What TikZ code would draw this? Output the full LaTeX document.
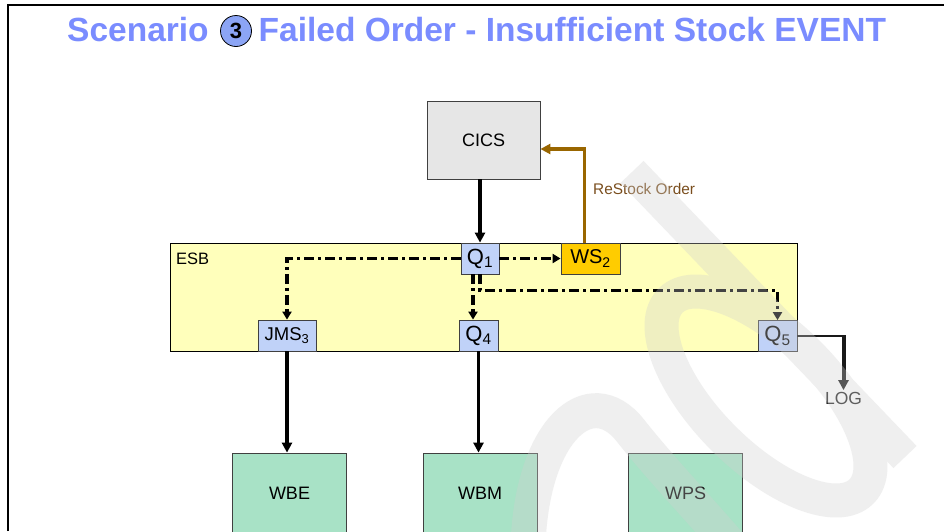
\documentclass[tikz,border=0pt]{standalone}
\usepackage{fontspec}
\setmainfont{Liberation Sans}
\usetikzlibrary{arrows.meta}
\definecolor{titleblue}{RGB}{122,140,255}
\definecolor{circblue}{RGB}{140,165,245}
\definecolor{cicsgray}{RGB}{230,230,230}
\definecolor{esbyellow}{RGB}{255,255,187}
\definecolor{qblue}{RGB}{192,210,248}
\definecolor{wsgold}{RGB}{255,204,0}
\definecolor{wgreen}{RGB}{168,226,198}
\definecolor{restock}{RGB}{153,102,0}
\definecolor{restocktext}{RGB}{122,78,30}
\definecolor{wmgray}{RGB}{208,208,208}
\begin{document}
\begin{tikzpicture}[x=1pt,y=-1pt,
  box/.style={draw=black!75, line width=0.8pt, inner sep=0pt, font=\fontsize{18}{20}\selectfont},
  qbox/.style={box, fill=qblue, minimum height=31pt, font=\fontsize{22}{24}\selectfont},
  jbox/.style={box, fill=qblue, minimum height=31pt, font=\fontsize{18.5}{20}\selectfont},
  gbox/.style={box, fill=wgreen, minimum width=114pt, minimum height=80pt},
  flow/.style={line width=3.8pt, -{Triangle[length=10pt,width=10pt]}},
  dd/.style={line width=3.2pt, dash pattern=on 10pt off 4pt on 3pt off 4pt, -{Triangle[length=8pt,width=9pt]}},
  titlefont/.style={font=\fontsize{33.5}{36}\selectfont\bfseries, text=titleblue, inner sep=0pt}
]
\useasboundingbox (0,0) rectangle (944,531);
\fill[white] (0,0) rectangle (944,531);
\draw[line width=1.5pt] (8,531) -- (8,5) -- (944,5);

% title
\node[titlefont, anchor=base west] (t1) at (67,41) {Scenario};
\node[circle, draw=black, line width=0.8pt, fill=circblue, minimum size=31pt, inner sep=0pt,
      font=\fontsize{22}{23}\selectfont\bfseries] (num) at (236,31) {3};
\node[titlefont, anchor=base west] (t2) at (258.5,41) {Failed Order - Insufficient Stock EVENT};

% boxes
\node[box, fill=cicsgray, minimum width=113pt, minimum height=78pt] (cics) at (483.5,140) {CICS};
\node[draw=black, line width=0.8pt, fill=esbyellow, minimum width=627pt, minimum height=108pt, inner sep=0pt] (esb) at (483.5,297) {};
\node[anchor=north west, font=\fontsize{16.5}{18}\selectfont, inner sep=0pt] (esblabel) at (176,253) {ESB};

\node[qbox, minimum width=38pt] (q1) at (480,258.5) {Q\textsubscript{1}};
\node[box, fill=wsgold, minimum width=59pt, minimum height=31pt, font=\fontsize{20}{22}\selectfont] (ws2) at (590.5,258.5) {WS\textsubscript{2}};
\node[jbox, minimum width=58pt] (jms) at (287,335.5) {JMS\textsubscript{3}};
\node[qbox, minimum width=39pt] (q4) at (478.5,335.5) {Q\textsubscript{4}};
\node[qbox, minimum width=39pt] (q5) at (777.5,336) {Q\textsubscript{5}};

\node[gbox] (wbe) at (289.5,493) {WBE};
\node[gbox] (wbm) at (480,493) {WBM};
\node[gbox] (wps) at (685.5,493) {WPS};

\node[font=\fontsize{17.5}{19}\selectfont, text=black!85, inner sep=2pt] (log) at (843.5,398.5) {LOG};
\node[font=\fontsize{15.4}{17}\selectfont, text=restocktext, anchor=west, inner sep=0pt] (rs) at (593,189) {ReStock Order};

% connectors
\draw[flow] (cics.south -| q1.north) -- (q1.north);
\draw[flow] (jms.south) -- (jms.south |- wbe.north);
\draw[flow] (q4.south) -- (q4.south |- wbm.north);
\draw[restock, line width=3.2pt, -{Triangle[length=10pt,width=10pt]}] ([xshift=-6pt]ws2.north) |- ([yshift=-9pt]cics.east);

\coordinate (lc) at (843.5,336);
\draw[line width=2.2pt, black!90] (q5.east) -- ([xshift=2pt]lc);
\draw[line width=4pt, black!90, -{Triangle[length=10pt,width=10pt]}] (lc) -- (log.north);

\draw[dd] (q1.west) -| (jms.north);
\draw[dd] (q1.east) -- (ws2.west);
\draw[dd] ([xshift=-7pt]q1.south) -- ([xshift=-7pt]q1.south |- q4.north);
\draw[dd] (q1.south) |- ([yshift=30pt]q5.north) -- (q5.north);

% watermark
\begin{scope}[transparency group, opacity=0.33]
  \draw[wmgray, line width=32pt] (632,172) -- (905,457);
  \draw[wmgray, line width=34pt, rotate around={-45:(766,396)}] (766,396) ellipse [x radius=135pt, y radius=60pt];
  \draw[wmgray, line width=35pt] (528,545) .. controls (532,430) and (590,380) .. (630,430) .. controls (660,468) and (700,510) .. (730,545);
\end{scope}
\end{tikzpicture}
\end{document}
